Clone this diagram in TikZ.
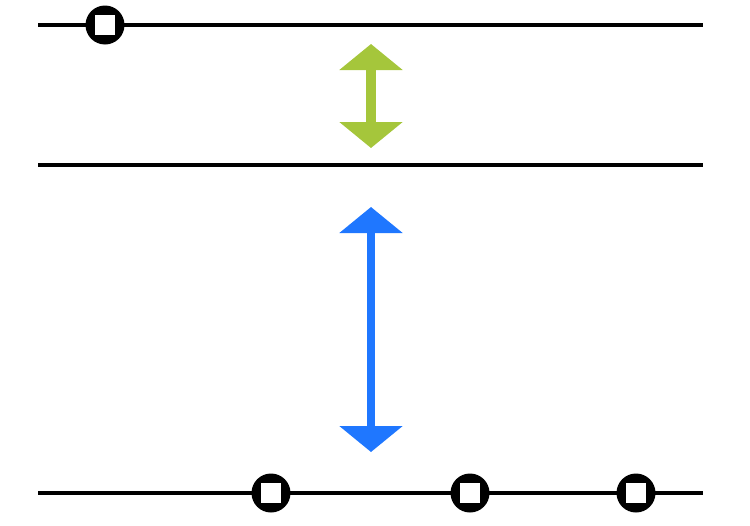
\documentclass[tikz,border=0pt]{standalone}
\usetikzlibrary{arrows.meta}

\definecolor{lime}{RGB}{165,198,59}
\definecolor{azure}{RGB}{31,119,255}

\tikzset{
  rail/.style={line width=0.09cm, black},
  dot/.style={circle, fill=black, minimum size=0.78cm, inner sep=0pt},
  hole/.style={rectangle, fill=white, minimum size=0.4cm, inner sep=0pt},
  gap/.style={{Triangle[width=1.24cm,length=0.52cm]}-{Triangle[width=1.24cm,length=0.52cm]}}
}

\begin{document}
\begin{tikzpicture}[x=0.02cm, y=-0.02cm]

  \useasboundingbox (0,0) rectangle (750,525);

  % three rails
  \coordinate (a1) at (38,25);   \coordinate (a2) at (703,25);
  \coordinate (b1) at (38,165);  \coordinate (b2) at (703,165);
  \coordinate (c1) at (38,493);  \coordinate (c2) at (703,493);
  \draw[rail] (a1) -- (a2);
  \draw[rail] (b1) -- (b2);
  \draw[rail] (c1) -- (c2);

  % ports on the rails
  \node[dot] (p1) at (105,25) {};  \node[hole] at (p1) {};
  \node[dot] (q1) at (271,493) {}; \node[hole] at (q1) {};
  \node[dot] (q2) at (470,493) {}; \node[hole] at (q2) {};
  \node[dot] (q3) at (636,493) {}; \node[hole] at (q3) {};

  % distances
  \coordinate (g1) at (371,44);  \coordinate (g2) at (371,148);
  \coordinate (h1) at (371,207); \coordinate (h2) at (371,452);
  \draw[gap, lime, line width=0.2cm] (g1) -- (g2);
  \draw[gap, azure, line width=0.17cm] (h1) -- (h2);

\end{tikzpicture}
\end{document}
